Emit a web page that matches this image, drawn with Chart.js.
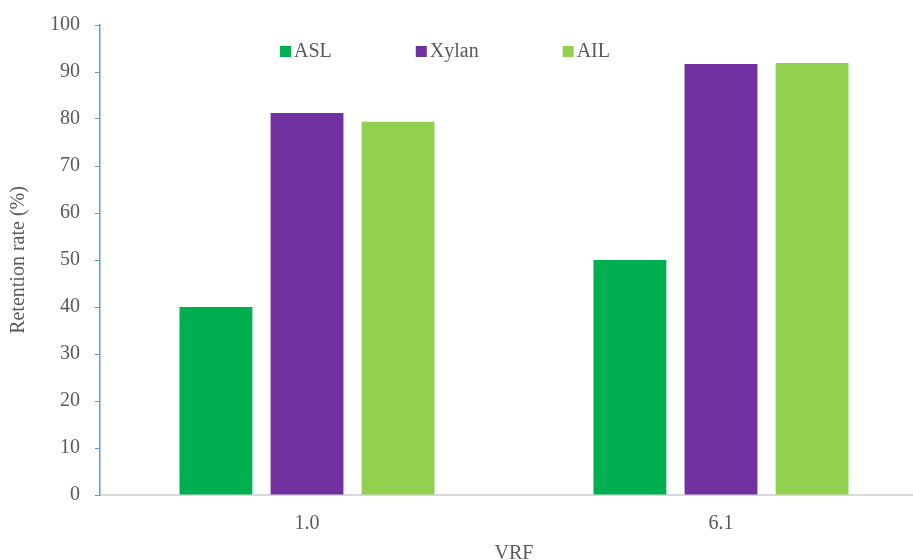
<!DOCTYPE html>
<html>
<head>
<meta charset="utf-8">
<script src="https://cdn.jsdelivr.net/npm/chart.js@4"></script>
<style>
  html, body { margin: 0; padding: 0; overflow: hidden; background: #fff; }
  #wrap { width: 928px; height: 560px; }
</style>
</head>
<body>
<div id="wrap"><canvas id="chart" width="928" height="560"></canvas></div>
<script>
const categories = ['1.0', '6.1'];
const seriesNames = ['ASL', 'Xylan', 'AIL'];
const aslValues = [40, 50];
const xylanValues = [81.3, 91.7];
const ailValues = [79.4, 91.9];
const seriesColors = ['#00B050', '#7030A0', '#92D050'];

const FONT = '"Liberation Serif", "Times New Roman", serif';
const TEXT = '#595959';

// legend sits inside the plot, drawn by hand to match spacing
const legendInside = {
  id: 'legendInside',
  afterDraw(chart) {
    const ctx = chart.ctx;
    ctx.save();
    ctx.font = '20px ' + FONT;
    ctx.textBaseline = 'middle';
    let x = 280;
    const y = 51;
    chart.data.datasets.forEach(ds => {
      ctx.fillStyle = ds.backgroundColor;
      ctx.fillRect(x, y - 5, 11, 11);
      ctx.fillStyle = TEXT;
      ctx.fillText(ds.label, x + 14, y + 1);
      x += 14 + ctx.measureText(ds.label).width + 84;
    });
    ctx.restore();
  }
};

const ctx = document.getElementById('chart').getContext('2d');
new Chart(ctx, {
  type: 'bar',
  data: {
    labels: categories,
    datasets: [
      { label: seriesNames[0], data: aslValues, backgroundColor: seriesColors[0] },
      { label: seriesNames[1], data: xylanValues, backgroundColor: seriesColors[1] },
      { label: seriesNames[2], data: ailValues, backgroundColor: seriesColors[2] },
    ],
  },
  options: {
    responsive: false,
    animation: false,
    layout: { padding: { top: 25, left: 0, right: 0, bottom: 0 } },
    datasets: {
      bar: { barPercentage: 0.8, categoryPercentage: 0.66 },
    },
    plugins: {
      legend: { display: false },
      tooltip: { enabled: false },
    },
    scales: {
      x: {
        grid: { display: false },
        border: { display: true, color: '#d9d9d9', width: 2 },
        ticks: { color: TEXT, font: { family: FONT, size: 20 }, padding: 9 },
        title: {
          display: true,
          text: 'VRF',
          color: TEXT,
          font: { family: FONT, size: 20 },
          padding: { top: 10, bottom: -6 },
        },
        afterFit: scale => {
          scale.height = 65;
          scale.paddingLeft = 0;
          scale.paddingRight = 0;
        },
      },
      y: {
        min: 0,
        max: 100,
        ticks: {
          stepSize: 10,
          color: TEXT,
          font: { family: FONT, size: 20 },
          padding: 15,
        },
        grid: {
          drawOnChartArea: false,
          drawTicks: true,
          tickLength: 5,
          color: '#5B9BD5',
        },
        border: { display: true, color: '#5B9BD5', width: 1.5 },
        title: {
          display: true,
          text: 'Retention rate (%)',
          color: TEXT,
          font: { family: FONT, size: 20 },
          padding: { top: 7, bottom: 12 },
        },
        afterFit: scale => {
          scale.width = 100;
          scale.paddingTop = 0;
          scale.paddingBottom = 0;
        },
      },
    },
  },
  plugins: [legendInside],
});
</script>
</body>
</html>
